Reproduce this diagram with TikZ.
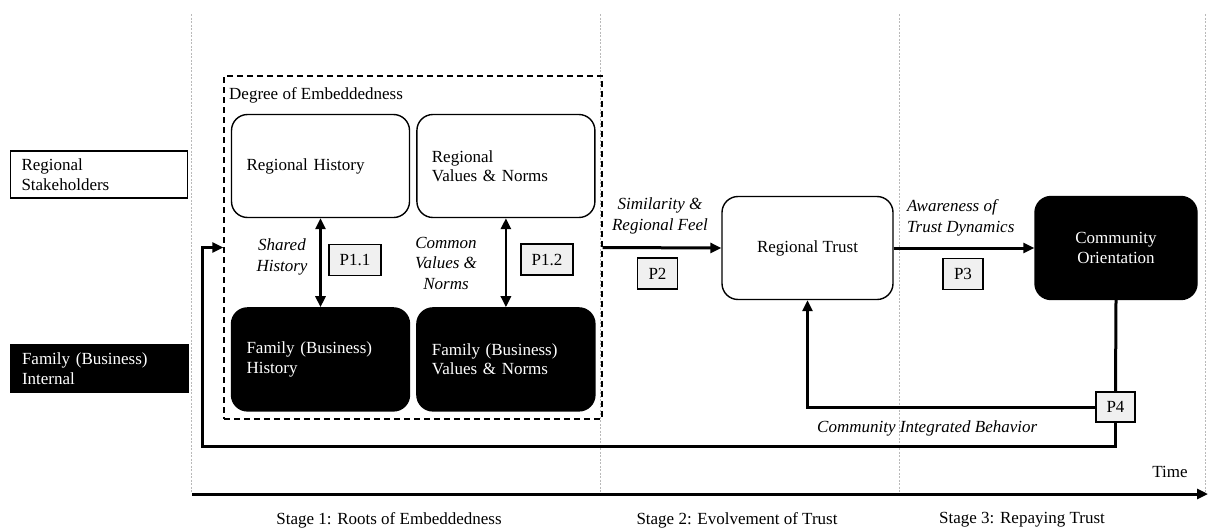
\documentclass[tikz,border=0pt]{standalone}
\usepackage{fontspec}
\setmainfont{Liberation Serif}
\usetikzlibrary{positioning,arrows.meta}

\begin{document}
\begin{tikzpicture}[
    x=1pt, y=-1pt,
    font=\fontsize{17}{19.5}\selectfont,
    roundbox/.style={rectangle, draw, line width=1.4pt, rounded corners=16pt, minimum height=103pt, align=center},
    leftbox/.style={roundbox, minimum width=178pt, text width=148pt, inner xsep=15pt, align=left},
    darkbox/.style={fill=black, text=white},
    lanebox/.style={rectangle, draw, line width=1.4pt, minimum width=177pt, minimum height=47pt, text width=155pt, inner xsep=11pt, align=left},
    embedbox/.style={rectangle, draw, line width=1.4pt, dash pattern=on 6pt off 4pt, minimum width=378pt, minimum height=343pt},
    pbox/.style={rectangle, draw, line width=1.3pt, fill=gray!12, minimum width=40pt, minimum height=31pt, inner sep=0pt},
    proplabel/.style={font=\fontsize{17}{20.5}\selectfont\itshape, align=center, inner sep=0pt},
    arrow/.style={-{Triangle[length=11pt,width=10pt]}, line width=3pt},
    dblarrow/.style={{Triangle[length=11pt,width=10pt]}-{Triangle[length=11pt,width=10pt]}, line width=2.8pt},
    link/.style={line width=3pt},
    stageline/.style={gray!55, line width=0.8pt, dash pattern=on 2pt off 1.5pt}
]
\useasboundingbox (0,0) rectangle (1209,530);

\foreach \x in {191,600,899,1205}
    \draw[stageline] (\x,14) -- (\x,492);

\node[lanebox] (regional) at (99,174.5) {Regional\\Stakeholders};
\node[lanebox, darkbox] (internal) at (99.5,368.5) {Family (Business)\\Internal};

\node[embedbox] (embed) at (413,247.5) {};
\node[anchor=west, inner sep=0pt] (degree) at (229,95) {Degree of Embeddedness};

\node[leftbox] (reghist) at (320.5,166) {Regional History};
\node[leftbox, right=6pt of reghist] (regval) {Regional\\Values \& Norms};
\node[leftbox, darkbox, below=89pt of reghist] (famhist) {Family (Business)\\History};
\node[leftbox, darkbox, below=89pt of regval] (famval) {Family (Business)\\Values \& Norms};

\draw[dblarrow] (reghist.south) -- (famhist.north);
\draw[dblarrow] (regval.south) -- (famval.north);
\node[proplabel] (shared) at (282,257) {Shared\\History};
\node[pbox, minimum width=52pt] (p11) at (355,260) {P1.1};
\node[proplabel] (common) at (446,263) {Common\\Values \&\\Norms};
\node[pbox, minimum width=52pt] (p12) at (547,259.5) {P1.2};

\node[roundbox, minimum width=171pt] (trust) at (807.5,248) {Regional Trust};
\node[roundbox, darkbox, minimum width=162pt] (comm) at (1116,248) {Community\\Orientation};

\draw[arrow] (embed.east) -- (trust.west);
\node[proplabel] (similar) at (660,216) {Similarity \&\\Regional Feel};
\node[pbox] (p2) at (657.5,273.5) {P2};

\draw[arrow] (trust.east) -- (comm.west);
\node[proplabel, anchor=west, align=left] (aware) at (907,218) {Awareness of\\Trust Dynamics};
\node[pbox] (p3) at (963,274) {P3};

\node[pbox, minimum width=39pt, minimum height=30pt] (p4) at (1115.5,407) {P4};
\draw[link] (comm.south) -- (p4.north);
\draw[arrow] (p4.west) -| (trust.south);
\coordinate (loop) at (202,446);
\draw[arrow] (p4.south) |- (loop) |- (embed.west);
\node[proplabel, anchor=west] (behave) at (817,428) {Community Integrated Behavior};

\coordinate (tstart) at (192,494);
\coordinate (tend) at (1208,494);
\draw[arrow] (tstart) -- (tend);
\node (time) at (1170,472) {Time};
\node (stage1) at (389,520) {Stage 1: Roots of Embeddedness};
\node (stage2) at (737,520) {Stage 2: Evolvement of Trust};
\node (stage3) at (1022,520) {Stage 3: Repaying Trust};

\end{tikzpicture}
\end{document}
